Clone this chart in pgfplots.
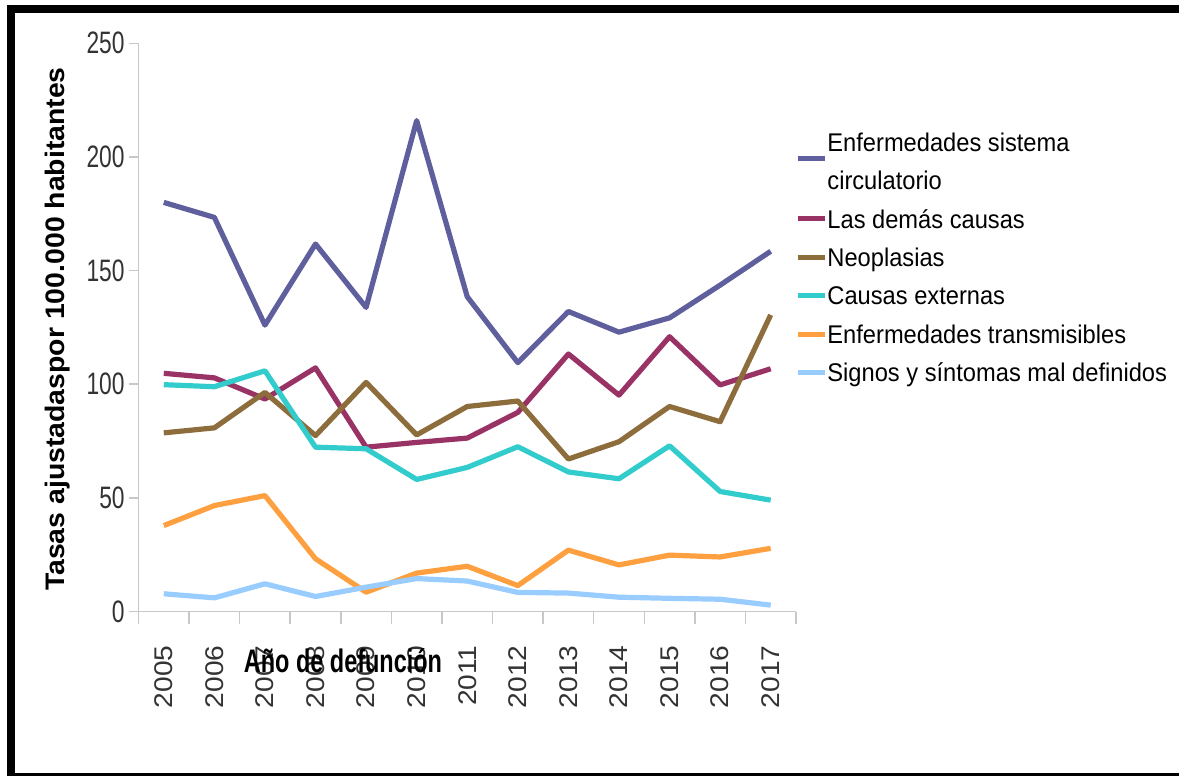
\documentclass[border=0pt]{standalone}
\usepackage{fontspec}
\setmainfont{Liberation Sans}
\newfontfamily\ytickfont[FakeStretch=0.735]{Liberation Sans}
\newfontfamily\xtickfont[FakeStretch=1.1]{Liberation Sans}
\newfontfamily\legfont[FakeStretch=0.925]{Liberation Sans}
\newfontfamily\ylabfont[FakeStretch=1.06]{Liberation Sans}
\newfontfamily\xlabfont[FakeStretch=0.72]{Liberation Sans}
\usepackage{pgfplots}
\pgfplotsset{compat=1.18}

\definecolor{axgray}{HTML}{C8C8C8}
\definecolor{ticktext}{HTML}{333333}
\definecolor{circ}{HTML}{5F5F9E}
\definecolor{demas}{HTML}{993366}
\definecolor{neo}{HTML}{8C6D3B}
\definecolor{ext}{HTML}{33CCCC}
\definecolor{trans}{HTML}{FFA040}
\definecolor{signos}{HTML}{99CCFF}

\begin{document}
\begin{tikzpicture}
\useasboundingbox (0,0) rectangle (589.5pt,-388pt);
\draw[line width=4pt] (5.5pt,-4.5pt) rectangle (596pt,-388.5pt);
\begin{axis}[
  at={(69.25pt,-305.75pt)}, anchor=south west,
  scale only axis, width=328.75pt, height=284.1pt,
  xmin=-0.5, xmax=12.5, ymin=0, ymax=250,
  axis x line*=bottom, axis y line*=left,
  axis line style={draw=axgray, line width=0.75pt},
  xtick={0,...,12},
  xticklabels={2005,2006,2007,2008,2009,2010,2011,2012,2013,2014,2015,2016,2017},
  minor xtick={-0.5,0.5,...,12.5},
  ytick={0,50,...,250},
  tick align=outside,
  major tick length=4.75pt, minor tick length=6pt,
  major x tick style={draw=none},
  minor x tick style={draw=axgray, line width=0.75pt},
  ytick style={draw=axgray, line width=0.75pt},
  /pgf/number format/assume math mode=true,
  yticklabel style={font=\ytickfont\fontsize{15.5}{17}\selectfont, text=ticktext, inner sep=0pt, anchor=east, xshift=-2pt},
  xticklabel style={font=\xtickfont\fontsize{12.8}{14}\selectfont, text=ticktext, inner sep=0pt, rotate=90, anchor=east},
  xticklabel shift=12pt,
  ylabel={Tasas ajustadaspor 100.000 habitantes},
  ylabel style={font=\ylabfont\bfseries\fontsize{13.4}{15}\selectfont, at={(axis description cs:-0.1118,0.4972)}, anchor=base, rotate=0},
  xlabel={Año de defunción},
  xlabel style={font=\xlabfont\bfseries\fontsize{16.3}{18}\selectfont, at={(axis description cs:0.311,-0.1065)}, anchor=base},
  every axis plot/.append style={line width=2.6pt, line join=round},
  legend cell align=left,
  legend style={draw=none, fill=none, at={(axis description cs:0.9985,0.8606)}, anchor=north west,
    font=\legfont\fontsize{12.8}{15}\selectfont, text=black, inner sep=0pt, row sep=0pt,
    nodes={inner sep=0pt, text height=14.2pt, text depth=5pt},
    /tikz/every even column/.append style={column sep=2.5pt}},
  legend image code/.code={\draw[#1, line width=2.5pt] (0pt,0pt) -- (13.5pt,0pt);},
]
\addplot[circ, legend image post style={yshift=-8.15pt}]
  coordinates {(0,180) (1,173.4) (2,126) (3,161.7) (4,133.8) (5,216) (6,138.5) (7,109.5) (8,132) (9,122.9) (10,129.2) (11,143.6) (12,158.5)};
\addlegendentry{Enfermedades sistema}
\addlegendimage{empty legend}
\addlegendentry{circulatorio}
\addplot[demas] coordinates {(0,104.8) (1,102.8) (2,93.5) (3,107.2) (4,72.3) (5,74.4) (6,76.3) (7,87.6) (8,113.3) (9,95.2) (10,120.9) (11,99.7) (12,106.8)};
\addlegendentry{Las demás causas}
\addplot[neo] coordinates {(0,78.6) (1,80.8) (2,96.4) (3,77.4) (4,100.8) (5,77.7) (6,90.2) (7,92.6) (8,67.1) (9,74.7) (10,90.2) (11,83.5) (12,130.5)};
\addlegendentry{Neoplasias}
\addplot[ext] coordinates {(0,99.8) (1,98.9) (2,105.9) (3,72.3) (4,71.6) (5,58.1) (6,63.4) (7,72.5) (8,61.4) (9,58.4) (10,72.9) (11,52.8) (12,49)};
\addlegendentry{Causas externas}
\addplot[trans] coordinates {(0,37.8) (1,46.6) (2,51) (3,23.2) (4,8.5) (5,16.9) (6,19.9) (7,11.4) (8,27) (9,20.5) (10,24.8) (11,24) (12,27.8)};
\addlegendentry{Enfermedades transmisibles}
\addplot[signos] coordinates {(0,7.8) (1,6.0) (2,12.2) (3,6.6) (4,10.7) (5,14.5) (6,13.4) (7,8.4) (8,8.1) (9,6.3) (10,5.8) (11,5.4) (12,2.8)};
\addlegendentry{Signos y síntomas mal definidos}
\end{axis}
\end{tikzpicture}
\end{document}
